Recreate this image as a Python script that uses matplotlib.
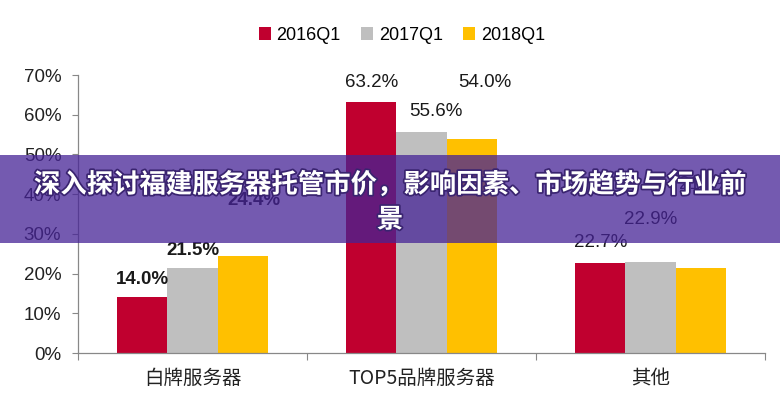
import numpy as np
import matplotlib
matplotlib.use('Agg')
import matplotlib.pyplot as plt
import matplotlib.patheffects as pe
from matplotlib.patches import Rectangle

plt.rcParams['font.family'] = ['Liberation Sans', 'Noto Sans CJK SC', 'DejaVu Sans']

# data
categories = ['白牌服务器', 'TOP5品牌服务器', '其他']
series = ['2016Q1', '2017Q1', '2018Q1']
values = {
    '2016Q1': [14.0, 63.2, 22.7],
    '2017Q1': [21.5, 55.6, 22.9],
    '2018Q1': [24.4, 54.0, 21.5],
}
yticks = [0, 10, 20, 30, 40, 50, 60, 70]
title = '深入探讨福建服务器托管市价，影响因素、市场趋势与行业前\n景'

# label placement (labels float off the bars there)
label_y = {
    '2016Q1': [18.6, 68.0, 27.7],
    '2017Q1': [25.7, 60.7, 33.5],
    '2018Q1': [38.5, 68.0, 42.5],
}
label_dx = {
    '2016Q1': [0, 0, 0],
    '2017Q1': [0, 14, 0],
    '2018Q1': [11, 13, 5],
}
colors = {'2016Q1': '#C0002F', '2017Q1': '#BFBFBF', '2018Q1': '#FFC000'}

fig = plt.figure(figsize=(7.8, 4.0), dpi=100)
ax = fig.add_axes([0.1, 0.1175, 0.881, 0.695])

x = np.arange(len(categories))
w = 0.22
for i, s in enumerate(series):
    xs = x + (i - 1) * w
    ax.bar(xs, values[s], width=w, color=colors[s], label=s, zorder=2)
    for j, v in enumerate(values[s]):
        bold = (j == 0)
        ax.annotate(f'{v:.1f}%', xy=(xs[j], label_y[s][j]), xytext=(label_dx[s][j] * 0.72, 0),
                    textcoords='offset points', ha='center', va='center',
                    fontsize=13.5, color='#1a1a1a', fontweight='bold' if bold else 'normal', zorder=3)

ax.set_xlim(-0.5, 2.5)
ax.set_ylim(0, 70)
ax.set_yticks(yticks)
ax.set_yticklabels([f'{t}%' for t in yticks], fontsize=13.5, color='#222222')
ax.tick_params(axis='y', length=4, width=0.8, color='#888888', pad=8)

ax.set_xticks([-0.5, 0.5, 1.5, 2.5])
ax.set_xticklabels([])
ax.tick_params(axis='x', which='major', length=5, width=0.8, color='#888888')
ax.set_xticks(x, minor=True)
ax.set_xticklabels(categories, minor=True, fontsize=14, color='#222222',
                   family=['Noto Sans CJK SC', 'DejaVu Sans'])
ax.tick_params(axis='x', which='minor', length=0, pad=11)

for sp in ['top', 'right']:
    ax.spines[sp].set_visible(False)
for sp in ['left', 'bottom']:
    ax.spines[sp].set_color('#888888')
    ax.spines[sp].set_linewidth(0.9)

fig.legend(loc='center', bbox_to_anchor=(0.515, 0.9125), ncol=3, frameon=False,
           fontsize=13, handlelength=0.7, handleheight=0.7, handletextpad=0.3,
           columnspacing=1.1)

# purple banner over the chart
fig.patches.append(Rectangle((0, 0.3925), 1, 0.22, transform=fig.transFigure,
                             facecolor='#462396', alpha=0.75, edgecolor='none', zorder=10))
lines = title.split('\n')
for k, line in enumerate(lines):
    fig.text(0.5, 0.5375 - k * 0.0875, line, ha='center', va='center', fontsize=19,
             fontweight='bold', color='white', family=['Noto Sans CJK SC', 'DejaVu Sans'], zorder=11,
             path_effects=[pe.withStroke(linewidth=2.5, foreground='#3a2470')])

fig.savefig('out.png', dpi=100)
